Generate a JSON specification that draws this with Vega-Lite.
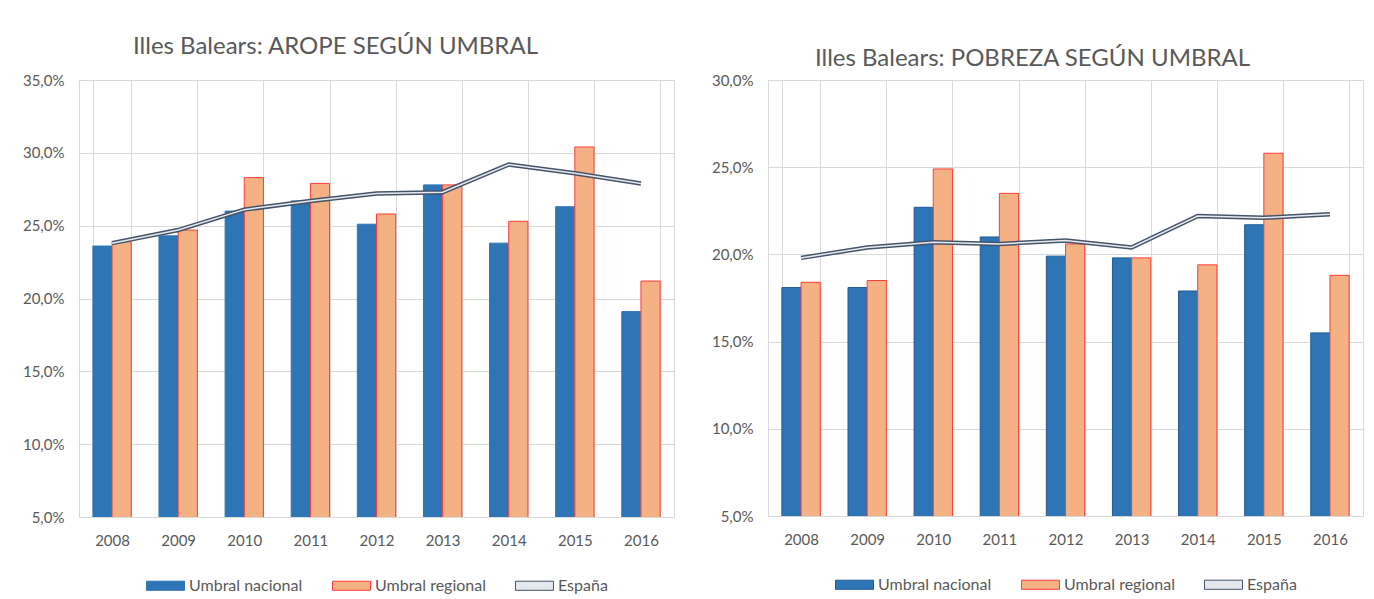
{
  "$schema": "https://vega.github.io/schema/vega-lite/v6.json",
  "background": "white",
  "padding": {"left": 21, "top": 34, "right": 10, "bottom": 5},
  "config": {
    "font": "Lato",
    "view": {"stroke": "#d9d9d9"},
    "axis": {"labelColor": "#595959", "labelFont": "Lato", "labelFontSize": 15, "gridColor": "#d9d9d9", "domain": false, "ticks": false, "title": null},
    "title": {"font": "Lato", "fontSize": 24, "fontWeight": "normal", "color": "#595959", "anchor": "middle"},
    "legend": {"orient": "bottom", "direction": "horizontal", "title": null, "labelFont": "Lato", "labelFontSize": 16, "labelColor": "#595959", "symbolType": "M-1,-0.24H1V0.24H-1Z", "symbolSize": 1444, "symbolStrokeWidth": 1, "labelOffset": 4, "columnPadding": 27, "offset": 18, "layout": {"bottom": {"anchor": "middle"}}}
  },
  "datasets": {
    "arope": [
      {"year": "2008", "serie": "Umbral nacional", "value": 23.6},
      {"year": "2008", "serie": "Umbral regional", "value": 23.9},
      {"year": "2008", "serie": "España", "value": 23.8},
      {"year": "2009", "serie": "Umbral nacional", "value": 24.3},
      {"year": "2009", "serie": "Umbral regional", "value": 24.7},
      {"year": "2009", "serie": "España", "value": 24.7},
      {"year": "2010", "serie": "Umbral nacional", "value": 26.0},
      {"year": "2010", "serie": "Umbral regional", "value": 28.3},
      {"year": "2010", "serie": "España", "value": 26.1},
      {"year": "2011", "serie": "Umbral nacional", "value": 26.7},
      {"year": "2011", "serie": "Umbral regional", "value": 27.9},
      {"year": "2011", "serie": "España", "value": 26.7},
      {"year": "2012", "serie": "Umbral nacional", "value": 25.1},
      {"year": "2012", "serie": "Umbral regional", "value": 25.8},
      {"year": "2012", "serie": "España", "value": 27.2},
      {"year": "2013", "serie": "Umbral nacional", "value": 27.8},
      {"year": "2013", "serie": "Umbral regional", "value": 27.8},
      {"year": "2013", "serie": "España", "value": 27.3},
      {"year": "2014", "serie": "Umbral nacional", "value": 23.8},
      {"year": "2014", "serie": "Umbral regional", "value": 25.3},
      {"year": "2014", "serie": "España", "value": 29.2},
      {"year": "2015", "serie": "Umbral nacional", "value": 26.3},
      {"year": "2015", "serie": "Umbral regional", "value": 30.4},
      {"year": "2015", "serie": "España", "value": 28.6},
      {"year": "2016", "serie": "Umbral nacional", "value": 19.1},
      {"year": "2016", "serie": "Umbral regional", "value": 21.2},
      {"year": "2016", "serie": "España", "value": 27.9}
    ],
    "pobreza": [
      {"year": "2008", "serie": "Umbral nacional", "value": 18.1},
      {"year": "2008", "serie": "Umbral regional", "value": 18.4},
      {"year": "2008", "serie": "España", "value": 19.8},
      {"year": "2009", "serie": "Umbral nacional", "value": 18.1},
      {"year": "2009", "serie": "Umbral regional", "value": 18.5},
      {"year": "2009", "serie": "España", "value": 20.4},
      {"year": "2010", "serie": "Umbral nacional", "value": 22.7},
      {"year": "2010", "serie": "Umbral regional", "value": 24.9},
      {"year": "2010", "serie": "España", "value": 20.7},
      {"year": "2011", "serie": "Umbral nacional", "value": 21.0},
      {"year": "2011", "serie": "Umbral regional", "value": 23.5},
      {"year": "2011", "serie": "España", "value": 20.6},
      {"year": "2012", "serie": "Umbral nacional", "value": 19.9},
      {"year": "2012", "serie": "Umbral regional", "value": 20.6},
      {"year": "2012", "serie": "España", "value": 20.8},
      {"year": "2013", "serie": "Umbral nacional", "value": 19.8},
      {"year": "2013", "serie": "Umbral regional", "value": 19.8},
      {"year": "2013", "serie": "España", "value": 20.4},
      {"year": "2014", "serie": "Umbral nacional", "value": 17.9},
      {"year": "2014", "serie": "Umbral regional", "value": 19.4},
      {"year": "2014", "serie": "España", "value": 22.2},
      {"year": "2015", "serie": "Umbral nacional", "value": 21.7},
      {"year": "2015", "serie": "Umbral regional", "value": 25.8},
      {"year": "2015", "serie": "España", "value": 22.1},
      {"year": "2016", "serie": "Umbral nacional", "value": 15.5},
      {"year": "2016", "serie": "Umbral regional", "value": 18.8},
      {"year": "2016", "serie": "España", "value": 22.3}
    ]
  },
  "bounds": "flush",
  "spacing": 94,
  "resolve": {
    "scale": {"x": "independent", "y": "independent", "fill": "independent", "stroke": "independent", "xOffset": "independent"},
    "legend": {"fill": "independent", "stroke": "independent"}
  },
  "hconcat": [
    {
      "width": 595,
      "height": 437,
      "title": {"text": "Illes Balears: AROPE SEGÚN UMBRAL", "offset": 14, "dx": -41},
      "data": {"name": "arope"},
      "layer": [
        {
          "mark": {"type": "bar", "strokeWidth": 1, "clip": true},
          "transform": [{"filter": "datum.serie !== 'España'"}],
          "encoding": {
            "x": {"field": "year", "type": "nominal", "scale": {"paddingInner": 0.42, "paddingOuter": 0.21}, "axis": {"tickBand": "extent", "grid": true, "labelAngle": 0, "labelPadding": 16}},
            "xOffset": {"field": "serie", "type": "nominal", "scale": {"domain": ["Umbral nacional", "Umbral regional"]}},
            "y": {"field": "value", "type": "quantitative", "scale": {"domain": [5, 35], "nice": false, "zero": false}, "axis": {"values": [5, 10, 15, 20, 25, 30, 35], "labelExpr": "replace(format(datum.value, '.1f'), '.', ',') + '%'", "labelPadding": 15, "grid": true}},
            "fill": {"field": "serie", "type": "nominal", "scale": {"domain": ["Umbral nacional", "Umbral regional", "España"], "range": ["#2E75B6", "#F4B183", "#E4E7EC"]}},
            "stroke": {"field": "serie", "type": "nominal", "scale": {"domain": ["Umbral nacional", "Umbral regional", "España"], "range": ["#2E75B6", "#FF3B3B", "#44546A"]}}
          }
        },
        {
          "mark": {"type": "line", "strokeWidth": 4.5},
          "transform": [{"filter": "datum.serie === 'España'"}],
          "encoding": {
            "x": {"field": "year", "type": "nominal"},
            "y": {"field": "value", "type": "quantitative"},
            "stroke": {"field": "serie", "type": "nominal"}
          }
        },
        {
          "mark": {"type": "line", "strokeWidth": 1.5, "stroke": "#E8EAEE"},
          "transform": [{"filter": "datum.serie === 'España'"}],
          "encoding": {
            "x": {"field": "year", "type": "nominal"},
            "y": {"field": "value", "type": "quantitative"}
          }
        }
      ]
    },
    {
      "width": 595,
      "height": 436,
      "title": {"text": "Illes Balears: POBREZA SEGÚN UMBRAL", "offset": 2, "dx": -33},
      "data": {"name": "pobreza"},
      "layer": [
        {
          "mark": {"type": "bar", "strokeWidth": 1, "clip": true},
          "transform": [{"filter": "datum.serie !== 'España'"}],
          "encoding": {
            "x": {"field": "year", "type": "nominal", "scale": {"paddingInner": 0.42, "paddingOuter": 0.21}, "axis": {"tickBand": "extent", "grid": true, "labelAngle": 0, "labelPadding": 16}},
            "xOffset": {"field": "serie", "type": "nominal", "scale": {"domain": ["Umbral nacional", "Umbral regional"]}},
            "y": {"field": "value", "type": "quantitative", "scale": {"domain": [5, 30], "nice": false, "zero": false}, "axis": {"values": [5, 10, 15, 20, 25, 30], "labelExpr": "replace(format(datum.value, '.1f'), '.', ',') + '%'", "labelPadding": 15, "grid": true}},
            "fill": {"field": "serie", "type": "nominal", "scale": {"domain": ["Umbral nacional", "Umbral regional", "España"], "range": ["#2E75B6", "#F4B183", "#E4E7EC"]}},
            "stroke": {"field": "serie", "type": "nominal", "scale": {"domain": ["Umbral nacional", "Umbral regional", "España"], "range": ["#1F5A96", "#FF3B3B", "#44546A"]}}
          }
        },
        {
          "mark": {"type": "line", "strokeWidth": 4.5},
          "transform": [{"filter": "datum.serie === 'España'"}],
          "encoding": {
            "x": {"field": "year", "type": "nominal"},
            "y": {"field": "value", "type": "quantitative"},
            "stroke": {"field": "serie", "type": "nominal"}
          }
        },
        {
          "mark": {"type": "line", "strokeWidth": 1.5, "stroke": "#E8EAEE"},
          "transform": [{"filter": "datum.serie === 'España'"}],
          "encoding": {
            "x": {"field": "year", "type": "nominal"},
            "y": {"field": "value", "type": "quantitative"}
          }
        }
      ]
    }
  ]
}
